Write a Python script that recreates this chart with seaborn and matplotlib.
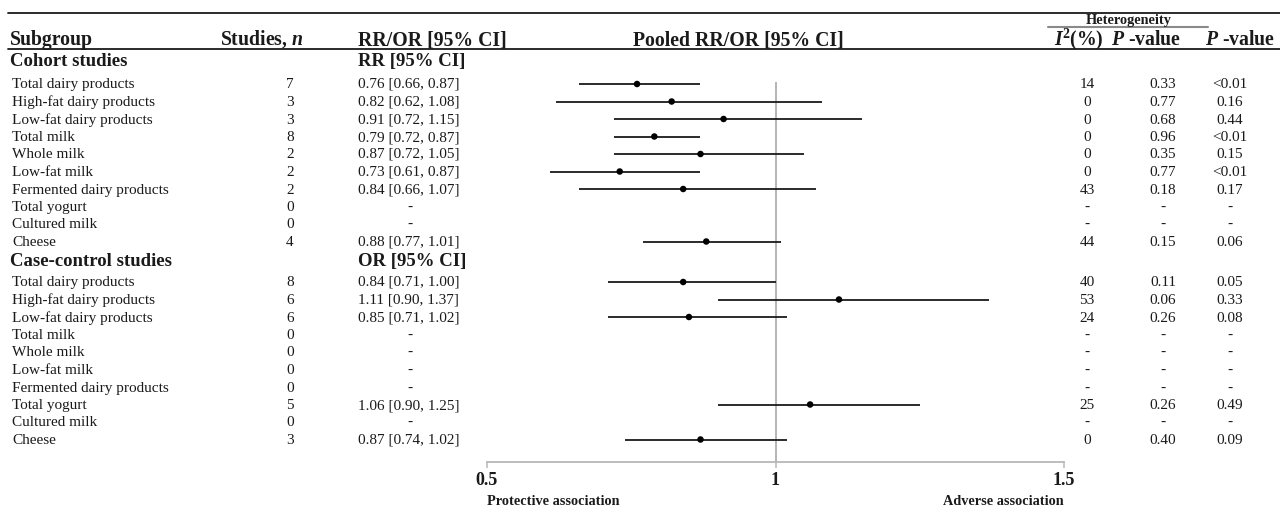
import numpy as np
import pandas as pd
import matplotlib
matplotlib.use("Agg")
import matplotlib.pyplot as plt
import matplotlib.transforms as mtransforms
import seaborn as sns

# ---- data -------------------------------------------------------------
subgroups = ["Total dairy products", "High-fat dairy products", "Low-fat dairy products",
             "Total milk", "Whole milk", "Low-fat milk", "Fermented dairy products",
             "Total yogurt", "Cultured milk", "Cheese"]

cohort_n = [7, 3, 3, 8, 2, 2, 2, 0, 0, 4]
cohort_est = [0.76, 0.82, 0.91, 0.79, 0.87, 0.73, 0.84, np.nan, np.nan, 0.88]
cohort_lo = [0.66, 0.62, 0.72, 0.72, 0.72, 0.61, 0.66, np.nan, np.nan, 0.77]
cohort_hi = [0.87, 1.08, 1.15, 0.87, 1.05, 0.87, 1.07, np.nan, np.nan, 1.01]
cohort_i2 = ["14", "0", "0", "0", "0", "0", "43", "-", "-", "44"]
cohort_phet = ["0.33", "0.77", "0.68", "0.96", "0.35", "0.77", "0.18", "-", "-", "0.15"]
cohort_p = ["<0.01", "0.16", "0.44", "<0.01", "0.15", "<0.01", "0.17", "-", "-", "0.06"]

case_n = [8, 6, 6, 0, 0, 0, 0, 5, 0, 3]
case_est = [0.84, 1.11, 0.85, np.nan, np.nan, np.nan, np.nan, 1.06, np.nan, 0.87]
case_lo = [0.71, 0.90, 0.71, np.nan, np.nan, np.nan, np.nan, 0.90, np.nan, 0.74]
case_hi = [1.00, 1.37, 1.02, np.nan, np.nan, np.nan, np.nan, 1.25, np.nan, 1.02]
case_i2 = ["40", "53", "24", "-", "-", "-", "-", "25", "-", "0"]
case_phet = ["0.11", "0.06", "0.26", "-", "-", "-", "-", "0.26", "-", "0.40"]
case_p = ["0.05", "0.33", "0.08", "-", "-", "-", "-", "0.49", "-", "0.09"]

x_ticks = [0.5, 1, 1.5]
x_ticklabels = ["0.5", "1", "1.5"]

# ---- style ------------------------------------------------------------
sns.set_theme(style="white")
plt.rcParams["font.family"] = ["Liberation Serif", "DejaVu Serif"]
plt.rcParams["mathtext.fontset"] = "custom"
plt.rcParams["mathtext.rm"] = "Liberation Serif"
plt.rcParams["mathtext.it"] = "Liberation Serif:italic"
plt.rcParams["mathtext.bf"] = "Liberation Serif:bold"
plt.rcParams["mathtext.bfit"] = "Liberation Serif:italic:bold"

W, H = 1280, 509
fig = plt.figure(figsize=(W / 100, H / 100), dpi=100)
AX_BOTTOM = 462
ax = fig.add_axes([487 / W, (H - AX_BOTTOM) / H, 577 / W, AX_BOTTOM / H])

ROW_FS = 11
HEAD_FS = 14.2
SEC_FS = 13.5
INK = "#1a1a1a"

# vertical row positions (pixels from top of the figure)
row_step = 17.5
cohort_y = [84 + row_step * i for i in range(len(subgroups))]
case_y = [282 + row_step * i for i in range(len(subgroups))]

df = pd.DataFrame({
    "label": subgroups * 2,
    "n": cohort_n + case_n,
    "est": cohort_est + case_est,
    "lo": cohort_lo + case_lo,
    "hi": cohort_hi + case_hi,
    "i2": cohort_i2 + case_i2,
    "phet": cohort_phet + case_phet,
    "p": cohort_p + case_p,
    "y": cohort_y + case_y,
})

# confidence intervals and point estimates
ci = df.dropna(subset=["est"])
ax.hlines(ci["y"], ci["lo"], ci["hi"], color=INK, lw=1.3, zorder=2)
sns.scatterplot(data=ci, x="est", y="y", color="black", s=22, edgecolor="none",
                ax=ax, zorder=3, legend=False)

# null line
ax.vlines(1, 82, AX_BOTTOM, color="#a8a8a8", lw=1.2, zorder=1)

ax.set_xlim(0.5, 1.5)
ax.set_ylim(AX_BOTTOM, 0)
ax.set_xlabel("")
ax.set_ylabel("")
ax.set_yticks([])
ax.set_xticks(x_ticks)
ax.set_xticklabels(x_ticklabels, fontweight="bold", fontsize=13)
ax.tick_params(axis="x", bottom=True, length=4, width=1.1, color="#b8b8b8",
               direction="out", pad=3.5, labelcolor=INK)
for side in ["left", "top", "right"]:
    ax.spines[side].set_visible(False)
ax.spines["bottom"].set_color("#b8b8b8")
ax.spines["bottom"].set_linewidth(1.3)
ax.patch.set_alpha(0)

# text columns: x in figure pixels, y = baseline in row pixels
tr = mtransforms.blended_transform_factory(fig.transFigure, ax.transData)


def put(px, y, s, ha="left", **kw):
    kw.setdefault("fontsize", ROW_FS)
    kw.setdefault("color", INK)
    ax.text(px / W, round(y), s, ha=ha, va="baseline", transform=tr,
            clip_on=False, **kw)


def hline(x0, x1, y, **kw):
    ax.plot([x0 / W, x1 / W], [y, y], transform=tr, clip_on=False, **kw)


# rules
hline(8, W, 13, color=INK, lw=1.3)
hline(8, W, 49, color=INK, lw=1.3)
hline(1048, 1208, 27, color="#8a8a8a", lw=1.5)

# headers
HEAD_BASE = 45
put(1129, 24, "Heterogeneity", ha="center", fontsize=10.3, fontweight="bold")
put(10, HEAD_BASE, "Subgroup", fontsize=HEAD_FS, fontweight="bold")
put(303, HEAD_BASE, r"Studies, $\mathbfit{n}$", ha="right", fontsize=HEAD_FS, fontweight="bold")
put(358, HEAD_BASE, "RR/OR [95% CI]", fontsize=HEAD_FS, fontweight="bold")
put(738, HEAD_BASE, "Pooled RR/OR [95% CI]", ha="center", fontsize=HEAD_FS, fontweight="bold")
put(1079, HEAD_BASE, r"$\mathbfit{I}^{\mathbf{2}}$(%)", ha="center", fontsize=HEAD_FS, fontweight="bold")
put(1146, HEAD_BASE, r"$\mathbfit{P}$ -value", ha="center", fontsize=HEAD_FS, fontweight="bold")
put(1240, HEAD_BASE, r"$\mathbfit{P}$ -value", ha="center", fontsize=HEAD_FS, fontweight="bold")

# section headers
put(10, 66, "Cohort studies", fontsize=SEC_FS, fontweight="bold")
put(358, 66, "RR [95% CI]", fontsize=SEC_FS, fontweight="bold")
put(10, 266, "Case-control studies", fontsize=SEC_FS, fontweight="bold")
put(358, 266, "OR [95% CI]", fontsize=SEC_FS, fontweight="bold")

# table rows
BASE_OFF = 4.5
for _, r in df.iterrows():
    y = r["y"] + BASE_OFF
    put(12, y, r["label"])
    put(290, y, str(r["n"]), ha="center")
    if np.isnan(r["est"]):
        put(410, y, "-", ha="center")
    else:
        put(358, y, f"{r['est']:.2f} [{r['lo']:.2f}, {r['hi']:.2f}]")
    put(1087, y, r["i2"], ha="center")
    put(1163, y, r["phet"], ha="center")
    put(1230, y, r["p"], ha="center")

# direction labels under the axis
ax.text(0.5, 505, "Protective association", ha="left", va="baseline",
        fontsize=10.3, fontweight="bold", color=INK, clip_on=False)
ax.text(1.5, 505, "Adverse association", ha="right", va="baseline",
        fontsize=10.3, fontweight="bold", color=INK, clip_on=False)

fig.savefig("out.png", dpi=100)
